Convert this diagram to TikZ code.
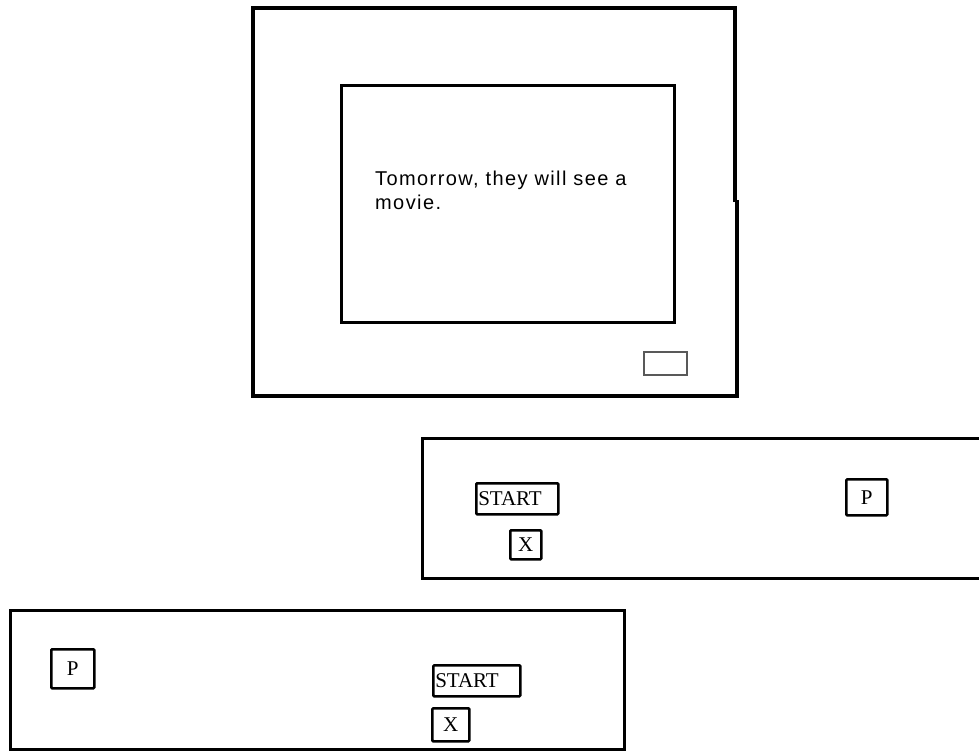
\documentclass[tikz,border=0pt]{standalone}
\usepackage{fontspec}
\setmainfont{Liberation Serif}
\newfontfamily\screenfont[LetterSpace=7]{Liberation Sans}
\tikzset{
  frame/.style={draw=black, line width=3.5pt},
  panel/.style={draw=black, line width=3pt},
  btn/.style={draw=black, line width=2.5pt, rounded corners=1pt, inner sep=1pt, font=\fontsize{21}{23}\selectfont},
  smallbtn/.style={draw=black!65, line width=1.5pt, inner sep=0pt}
}
\begin{document}
\begin{tikzpicture}[x=1pt,y=-1pt]
\useasboundingbox (0,0) rectangle (979,755);
% TV outer frame
\draw[frame] (735,202) -- (735,8) -- (253,8) -- (253,396) -- (737,396) -- (737,200);
% screen
\draw[frame, line width=3pt] (341,85) rectangle (674,322);
\node[anchor=north west, inner sep=0pt, align=left, font=\screenfont\fontsize{20}{24}\selectfont] (sentence) at (375,171) {Tomorrow, they will see a\\movie.};
% small button on TV
\node[smallbtn, minimum width=43, minimum height=23, anchor=north west] (tvbtn) at (643,351) {};
% panel 2 (open to the right)
\draw[panel] (979,438) -- (422,438) -- (422,578) -- (979,578);
\node[btn, anchor=north west, minimum width=82, minimum height=31, text width=78, align=left] (start1) at (475,482) {START};
\node[btn, anchor=north west, minimum width=31, minimum height=29, align=center] (x1) at (509,529) {X};
\node[btn, anchor=north west, minimum width=41, minimum height=36, align=center] (p1) at (845,478) {P};
% panel 3
\draw[panel] (10,610) rectangle (624,749);
\node[btn, anchor=north west, minimum width=43, minimum height=39, align=center] (p2) at (50,648) {P};
\node[btn, anchor=north west, minimum width=87, minimum height=31, text width=83, align=left] (start2) at (432,664) {START};
\node[btn, anchor=north west, minimum width=37, minimum height=33, align=center] (x2) at (431,707) {X};
\end{tikzpicture}
\end{document}
